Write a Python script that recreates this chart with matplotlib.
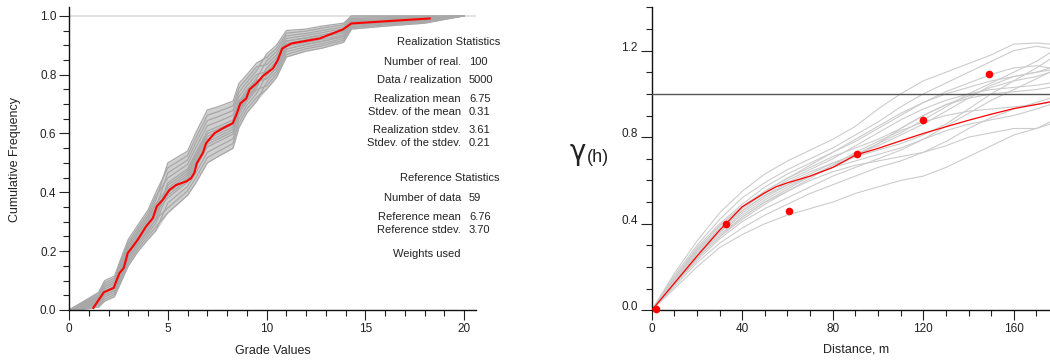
import matplotlib
matplotlib.use("Agg")
import matplotlib.pyplot as plt
import numpy as np
from matplotlib.ticker import MultipleLocator, FormatStrFormatter

plt.rcParams['font.family'] = ['Liberation Sans', 'DejaVu Sans']
plt.rcParams['text.color'] = '#222222'
plt.rcParams['xtick.color'] = '#222222'
plt.rcParams['ytick.color'] = '#222222'

# ---- left panel: cumulative distributions of the realizations ----
grade_grid = [0, 0.5, 1, 1.5, 1.8, 2.3, 2.6, 3, 3.5, 4, 4.4, 5, 5.5, 6, 6.4, 7, 7.5,
              8.3, 8.6, 9, 9.5, 10, 10.5, 11, 12, 12.8, 13.9, 14.3, 16, 18, 20]

real_cdfs = [
    [0, .002, .009, .015, .037, .052, .098, .159, .209, .250, .283, .330, .360, .390, .430, .500, .520,
     .550, .620, .670, .710, .774, .812, .878, .895, .905, .923, .964, .972, .980, 1.0],
    [0, .006, .016, .025, .051, .066, .114, .177, .227, .270, .309, .347, .376, .405, .447, .518, .537,
     .566, .635, .683, .723, .750, .790, .860, .880, .890, .910, .955, .965, .975, 1.0],
    [0, .000, .005, .010, .030, .045, .090, .150, .200, .240, .270, .364, .392, .420, .464, .536, .554,
     .582, .650, .696, .736, .798, .834, .896, .910, .920, .936, .973, .979, .985, 1.0],
    [0, .010, .023, .035, .065, .080, .130, .195, .245, .290, .335, .381, .408, .435, .481, .554, .571,
     .598, .665, .709, .749, .762, .801, .869, .888, .898, .917, .960, .969, .978, 1.0],
    [0, .004, .012, .020, .044, .059, .106, .168, .218, .260, .296, .398, .424, .450, .498, .572, .588,
     .614, .680, .722, .762, .822, .856, .914, .925, .935, .949, .982, .986, .990, 1.0],
    [0, .014, .030, .045, .079, .094, .146, .213, .263, .310, .361, .415, .440, .465, .515, .590, .605,
     .630, .695, .735, .775, .786, .823, .887, .903, .913, .930, .969, .976, .983, 1.0],
    [0, .008, .019, .030, .058, .073, .122, .186, .236, .280, .322, .432, .456, .480, .532, .608, .622,
     .646, .710, .748, .788, .846, .878, .932, .940, .950, .962, .991, .993, .995, 1.0],
    [0, .018, .037, .055, .093, .108, .162, .231, .281, .330, .387, .449, .472, .495, .549, .626, .639,
     .662, .725, .761, .801, .810, .845, .905, .918, .928, .943, .978, .983, .988, 1.0],
    [0, .012, .026, .040, .072, .087, .138, .204, .254, .300, .348, .466, .488, .510, .566, .644, .656,
     .678, .740, .774, .814, .870, .900, .950, .955, .965, .975, 1.0, 1.0, 1.0, 1.0],
    [0, .020, .040, .060, .100, .115, .170, .240, .290, .340, .400, .483, .504, .525, .583, .662, .673,
     .694, .755, .787, .827, .834, .867, .923, .933, .943, .956, .987, .990, .993, 1.0],
    [0, .016, .033, .050, .086, .101, .154, .222, .272, .320, .374, .500, .520, .540, .600, .680, .690,
     .710, .770, .800, .840, .858, .889, .941, .948, .958, .969, .996, .997, .998, 1.0],
    [0, .010, .023, .035, .065, .080, .130, .195, .245, .290, .335, .407, .432, .458, .507, .581, .597,
     .622, .688, .729, .769, .810, .845, .905, .918, .928, .943, .978, .983, .988, 1.0],
    [0, .006, .016, .025, .051, .066, .114, .177, .227, .270, .309, .424, .448, .473, .524, .599, .614,
     .638, .703, .742, .782, .786, .823, .887, .903, .913, .930, .969, .976, .983, 1.0],
    [0, .014, .030, .045, .079, .094, .146, .213, .263, .310, .361, .390, .416, .443, .490, .563, .580,
     .606, .673, .716, .756, .822, .856, .914, .925, .935, .949, .982, .986, .990, 1.0],
]

ref_grade = [1.23, 1.76, 2.26, 2.55, 2.77, 2.97, 3.23, 3.48, 3.9, 4.24, 4.44, 4.74, 5.08, 5.42, 5.93,
             6.18, 6.35, 6.47, 6.77, 6.94, 7.36, 7.79, 8.29, 8.5, 8.67, 8.97, 9.14, 9.48, 9.81, 10.32,
             10.57, 10.79, 11.25, 12.69, 13.87, 14.29, 18.26]
ref_cdf = [0.007, 0.06, 0.075, 0.125, 0.143, 0.193, 0.216, 0.239, 0.284, 0.312, 0.352, 0.374, 0.408,
           0.425, 0.437, 0.448, 0.467, 0.499, 0.533, 0.567, 0.601, 0.618, 0.635, 0.669, 0.702, 0.719,
           0.75, 0.77, 0.795, 0.821, 0.85, 0.889, 0.906, 0.923, 0.954, 0.974, 0.991]

stat_labels = ["Number of real.", "Data / realization", "Realization mean", "Stdev. of the mean",
               "Realization stdev.", "Stdev. of the stdev.",
               "Number of data", "Reference mean", "Reference stdev."]
stat_values = ["100", "5000", "6.75", "0.31", "3.61", "0.21", "59", "6.76", "3.70"]

# ---- right panel: variograms ----
lag_grid = [0, 10, 20, 30, 40, 50, 60, 70, 80, 90, 100, 110, 120, 130, 140, 150, 160, 170, 176]
real_vario = [
    [0, .17, .32, .45, .55, .63, .69, .74, .79, .85, .93, 1.00, 1.06, 1.10, 1.14, 1.18, 1.23, 1.235, 1.23],
    [0, .10, .20, .29, .35, .40, .44, .47, .50, .54, .57, .60, .62, .66, .71, .76, .81, .84, .87],
    [0, .13, .25, .35, .43, .50, .55, .60, .64, .67, .69, .71, .73, .76, .80, .82, .84, .84, .86],
    [0, .12, .24, .34, .42, .49, .55, .61, .67, .73, .78, .83, .87, .90, .92, .93, .94, .95, .96],
    [0, .14, .27, .38, .47, .54, .60, .65, .70, .76, .82, .88, .93, .97, 1.00, 1.02, 1.03, 1.04, 1.05],
    [0, .15, .29, .40, .49, .57, .63, .68, .73, .78, .84, .90, .96, 1.01, 1.05, 1.09, 1.12, 1.13, 1.12],
    [0, .13, .26, .37, .46, .53, .59, .64, .68, .72, .77, .82, .88, .94, 1.00, 1.05, 1.10, 1.15, 1.19],
    [0, .14, .28, .39, .48, .55, .61, .66, .71, .75, .79, .84, .90, .95, .99, 1.03, 1.06, 1.08, 1.10],
    [0, .12, .23, .33, .41, .47, .52, .57, .62, .66, .70, .74, .79, .85, .91, .97, 1.02, 1.07, 1.10],
    [0, .16, .30, .42, .52, .59, .65, .70, .75, .81, .87, .94, 1.00, 1.05, 1.10, 1.15, 1.20, 1.22, 1.21],
    [0, .11, .22, .31, .38, .44, .49, .54, .58, .62, .66, .69, .73, .78, .84, .89, .93, .96, .98],
    [0, .13, .25, .36, .45, .52, .58, .63, .68, .72, .76, .81, .86, .92, .98, 1.04, 1.08, 1.10, 1.11],
    [0, .14, .27, .37, .46, .53, .58, .62, .66, .71, .77, .84, .90, .95, .98, 1.00, 1.01, 1.02, 1.03],
    [0, .12, .24, .34, .43, .50, .56, .62, .67, .71, .74, .77, .81, .86, .93, 1.00, 1.06, 1.12, 1.16],
    [0, .13, .26, .36, .44, .51, .57, .62, .66, .69, .72, .75, .79, .83, .86, .88, .90, .93, .95],
    [0, .15, .28, .39, .48, .55, .61, .67, .73, .79, .85, .91, .96, 1.00, 1.03, 1.06, 1.08, 1.10, 1.12],
]
model_lag = [0, 10, 20, 30, 40, 50, 55, 60, 70, 80, 90, 100, 110, 120, 130, 140, 150, 160, 170, 176]
model_gam = [0, .125, .25, .37, .478, .543, .571, .589, .62, .66, .717, .748, .783, .817, .848, .878,
             .906, .932, .951, .963]
exp_lag = [1.8, 32.8, 60.5, 90.7, 119.8, 149.2]
exp_gam = [0.006, 0.40, 0.458, 0.722, 0.88, 1.092]

W, H = 1050, 360
fig = plt.figure(figsize=(W / 100, H / 100), dpi=100)


def fx(x):
    return x / W


def fy(y):
    return 1 - y / H


def style_axes(ax):
    for s in ['top', 'right']:
        ax.spines[s].set_visible(False)
    for s in ['left', 'bottom']:
        ax.spines[s].set_linewidth(1.0)
        ax.spines[s].set_color('#111111')
    ax.tick_params(which='major', direction='out', length=7, width=0.8, labelsize=8.5, pad=2)
    ax.tick_params(which='minor', direction='out', length=4, width=0.8)


# left axes
ax1 = fig.add_axes([fx(69), fy(310), fx(476 - 69), (310 - 7) / H])
cdf_arr = np.array(real_cdfs)
ax1.fill_between(grade_grid, cdf_arr.min(axis=0), cdf_arr.max(axis=0),
                 color='#cfcfcf', lw=0, zorder=1)
for c in real_cdfs:
    ax1.plot(grade_grid, c, color='#a8a8a8', lw=0.9, zorder=2)
ax1.plot(ref_grade, ref_cdf, color='#ff0000', lw=1.5, zorder=3)
ax1.axhline(1.0, color='#dddddd', lw=1.2, zorder=0)
ax1.set_xlim(0, 20.6)
ax1.set_ylim(0, 1.03)
ax1.set_xticks([0, 5, 10, 15, 20])
ax1.xaxis.set_minor_locator(MultipleLocator(1))
ax1.set_yticks([0, 0.2, 0.4, 0.6, 0.8, 1.0])
ax1.yaxis.set_minor_locator(MultipleLocator(0.05))
ax1.yaxis.set_major_formatter(FormatStrFormatter('%.1f'))
style_axes(ax1)
fig.text(fx(15), fy(160), "Cumulative Frequency", rotation=90, ha='center', va='center', fontsize=9)
fig.text(fx(273), fy(351), "Grade Values", ha='center', va='center', fontsize=9)

# stats block
fig.text(fx(449), fy(42), "Realization Statistics", ha='center', va='center', fontsize=8)
fig.text(fx(450), fy(178), "Reference Statistics", ha='center', va='center', fontsize=8)
stat_rows = [62, 80, 99, 112, 130, 143, 198, 216.5, 230]
for lab, val, yy in zip(stat_labels, stat_values, stat_rows):
    fig.text(fx(461), fy(yy), lab, ha='right', va='center', fontsize=8)
    fig.text(fx(469), fy(yy), val, ha='left', va='center', fontsize=8)
fig.text(fx(461), fy(254), "Weights used", ha='right', va='center', fontsize=8)

# right axes
ax2 = fig.add_axes([fx(651.7), fy(310.3), fx(W - 651.7), (310.3 - 7.3) / H])
for v in real_vario:
    ax2.plot(lag_grid, v, color='#cccccc', lw=0.8, zorder=2)
ax2.axhline(1.0, color='#555555', lw=1.0, zorder=3)
ax2.plot(model_lag, model_gam, color='#ff0000', lw=0.9, zorder=4)
ax2.plot(exp_lag, exp_gam, 'o', color='#ff0000', ms=5.5, mec='none', zorder=5, clip_on=False)
ax2.set_xlim(0, 176)
ax2.set_ylim(0, 1.4)
ax2.set_xticks([0, 40, 80, 120, 160])
ax2.xaxis.set_minor_locator(MultipleLocator(10))
ax2.set_yticks([0, 0.4, 0.8, 1.2])
ax2.yaxis.set_minor_locator(MultipleLocator(0.1))
ax2.yaxis.set_major_formatter(FormatStrFormatter('%.1f'))
style_axes(ax2)
ax2.tick_params(axis='y', which='major', length=8)
for t in ax2.get_yticklabels():
    t.set_va('baseline')
fig.text(fx(570), fy(160), "\u03b3", ha='left', va='baseline', fontsize=20, family='DejaVu Sans')
fig.text(fx(587), fy(162), "(h)", ha='left', va='baseline', fontsize=13)
fig.text(fx(856), fy(350), "Distance, m", ha='center', va='center', fontsize=9)

fig.savefig("out.png", dpi=100)
